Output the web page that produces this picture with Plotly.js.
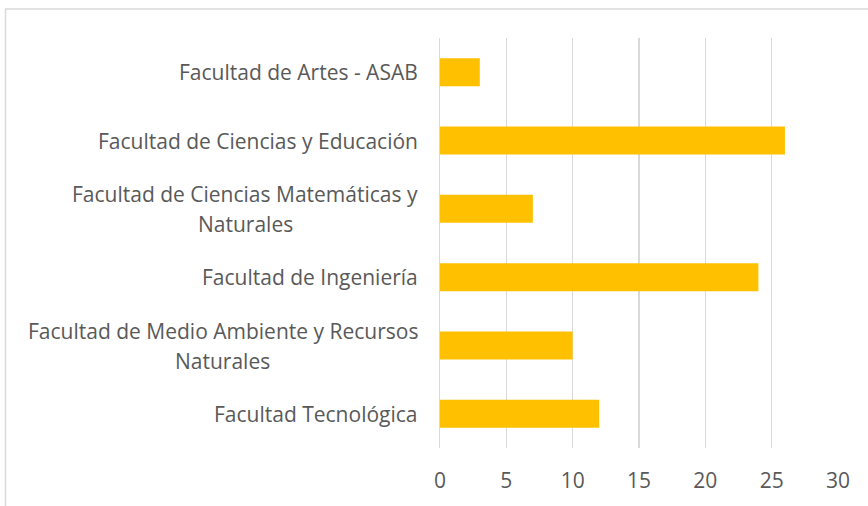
<!DOCTYPE html>
<html><head><meta charset="utf-8">
<script src="https://cdn.plot.ly/plotly-3.0.1.min.js"></script>
<style>html,body{margin:0;padding:0;background:#fff;}#chart{width:868px;height:506px;}</style>
</head><body><div id="chart"></div>
<script>
var categories = [
  "Facultad de Artes - ASAB",
  "Facultad de Ciencias y Educación",
  "Facultad de Ciencias Matemáticas y<br>Naturales",
  "Facultad de Ingeniería",
  "Facultad de Medio Ambiente y Recursos<br>Naturales",
  "Facultad Tecnológica"
];
var values = [3, 26, 7, 24, 10, 12];
var tickVals = [0, 5, 10, 15, 20, 25, 30];

var FAMILY = "Open Sans";
var FONT = "'Open Sans', sans-serif";
var FSIZE = 21;
var TXT = "#595959";

var data = [{
  type: "bar", orientation: "h",
  y: categories, x: values,
  marker: {color: "#FFC000"},
  hoverinfo: "x+y"
}];

var layout = {
  width: 868, height: 506,
  margin: {l: 440, r: 30, t: 38, b: 58},
  paper_bgcolor: "#fff", plot_bgcolor: "#fff",
  bargap: 0.59,
  showlegend: false,
  xaxis: {
    range: [0, 30], tickvals: tickVals, ticktext: tickVals.map(String),
    showgrid: true, gridcolor: "#d9d9d9", gridwidth: 1.5,
    zeroline: false, showline: false, ticks: "",
    ticklabelstandoff: 18,
    tickfont: {family: FONT, size: FSIZE, color: TXT},
    fixedrange: true
  },
  yaxis: {
    type: "category", autorange: "reversed",
    showticklabels: false, showgrid: false, zeroline: false,
    showline: true, linecolor: "#d9d9d9", linewidth: 1.5,
    ticks: "", fixedrange: true
  },
  shapes: [{
    type: "rect", xref: "paper", yref: "paper",
    x0: (5.5 - 440) / 398, x1: 2, y0: -1, y1: (448 - 9) / 410,
    line: {color: "#d9d9d9", width: 1.5}, fillcolor: "rgba(0,0,0,0)"
  }],
  annotations: []
};

var measure = document.createElement("canvas").getContext("2d");
measure.font = FSIZE + "px '" + FAMILY + "'";
categories.forEach(function(cat){
  var lines = cat.split("<br>");
  var n = lines.length;
  var maxW = Math.max.apply(null, lines.map(function(l){ return measure.measureText(l).width; }));
  var centerPx = 418 - maxW / 2;
  lines.forEach(function(line, i){
    layout.annotations.push({
      xref: "paper", yref: "y", x: (centerPx - 440) / 398, y: cat,
      xanchor: "center", yanchor: "middle",
      yshift: ((n - 1) / 2 - i) * 30,
      text: line, showarrow: false,
      font: {family: FONT, size: FSIZE, color: TXT}
    });
  });
});

Plotly.newPlot("chart", data, layout, {displayModeBar: false, staticPlot: true});
</script></body></html>
